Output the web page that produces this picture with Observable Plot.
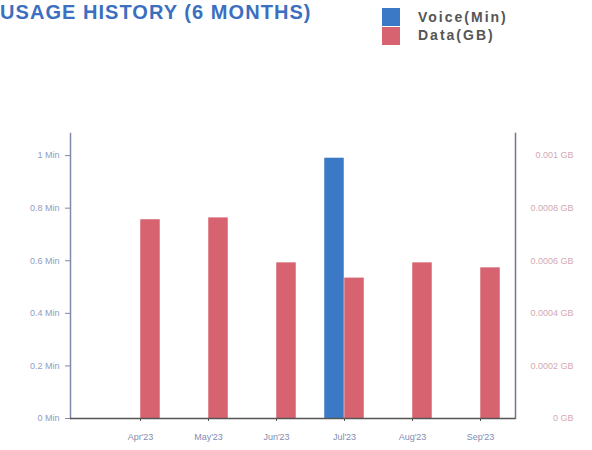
<!DOCTYPE html>
<html>
<head>
<meta charset="utf-8">
<script src="https://cdn.jsdelivr.net/npm/d3@7"></script>
<script src="https://cdn.jsdelivr.net/npm/@observablehq/plot@0.6"></script>
<style>
  html, body { margin: 0; padding: 0; background: #fff; }
  body { width: 592px; height: 450px; overflow: hidden; font-family: "Liberation Sans", Arial, sans-serif; }
  #header { position: relative; width: 592px; height: 60px; }
  #title { position: absolute; left: 0px; top: 0px; font-size: 20px; font-weight: bold; letter-spacing: 1.05px; color: #3b6fbf; white-space: nowrap; line-height: 24px; }
  .lg { position: absolute; left: 382px; width: 18px; height: 18px; }
  .lt { position: absolute; left: 418px; font-size: 14px; font-weight: bold; letter-spacing: 2px; color: #555; line-height: 18px; white-space: nowrap; }
</style>
</head>
<body>
<div id="header">
  <div id="title">USAGE HISTORY (6 MONTHS)</div>
  <div class="lg" id="lg0" style="top:8px"></div>
  <div class="lt" id="lt0" style="top:8px"></div>
  <div class="lg" id="lg1" style="top:27px"></div>
  <div class="lt" id="lt1" style="top:26px"></div>
</div>
<div id="chart"></div>
<script>
const months = ["Apr'23", "May'23", "Jun'23", "Jul'23", "Aug'23", "Sep'23"];
const voiceMin = [0, 0, 0, 0.99, 0, 0];
const dataGB = [0.000756, 0.000763, 0.000592, 0.000534, 0.000592, 0.000573];
const seriesNames = ["Voice(Min)", "Data(GB)"];
const seriesColors = ["#3b78c6", "#d6636f"];
const leftTicks = [0, 0.2, 0.4, 0.6, 0.8, 1];
const leftTickLabels = ["0 Min", "0.2 Min", "0.4 Min", "0.6 Min", "0.8 Min", "1 Min"];
const rightTickLabels = ["0 GB", "0.0002 GB", "0.0004 GB", "0.0006 GB", "0.0008 GB", "0.001 GB"];
const minPerGB = 1000; // aligns right axis (GB) with left axis (Min)

// legend
document.getElementById("lg0").style.background = seriesColors[0];
document.getElementById("lg1").style.background = seriesColors[1];
document.getElementById("lt0").textContent = seriesNames[0];
document.getElementById("lt1").textContent = seriesNames[1];

const rows = months.map((m, i) => ({month: m, voice: voiceMin[i], data: dataGB[i], dataScaled: dataGB[i] * minPerGB}));

const chart = Plot.plot({
  width: 592,
  height: 390,
  marginLeft: 70,
  marginRight: 77,
  marginTop: 73,
  marginBottom: 32,
  style: {fontFamily: "'Liberation Sans', Arial, sans-serif", background: "#fff"},
  x: {domain: months, range: [104, 515], padding: 0},
  y: {domain: [0, 1.084]},
  marks: [
    Plot.barY(rows, {x: "month", y: "voice", fill: seriesColors[0], insetLeft: 14.25, insetRight: 34.25}),
    Plot.barY(rows, {x: "month", y: "dataScaled", fill: seriesColors[1], insetLeft: 34.25, insetRight: 14.25}),
    Plot.frame({anchor: "left", stroke: "#7f8aa8", strokeWidth: 1.5}),
    Plot.frame({anchor: "right", stroke: "#6f7690", strokeWidth: 1.5}),
    Plot.axisY({anchor: "left", ticks: leftTicks, tickFormat: (d, i) => leftTickLabels[i], tickSize: 5, tickPadding: 6, fontSize: 9, color: "#8f9dbf", stroke: "#7f8aa8", label: null}),
    Plot.axisY({anchor: "right", ticks: leftTicks, tickFormat: (d, i) => rightTickLabels[i], tickSize: 0, tickPadding: 58, textAnchor: "end", fontSize: 9, color: "#d4a9b1", label: null}),
    Plot.axisX({anchor: "bottom", tickSize: 3, tickPadding: 12, fontSize: 9, color: "#7f8db0", stroke: "#555", label: null}),
    Plot.ruleY([0], {stroke: "#555", strokeWidth: 1.5})
  ]
});
document.getElementById("chart").appendChild(chart);
</script>
</body>
</html>
